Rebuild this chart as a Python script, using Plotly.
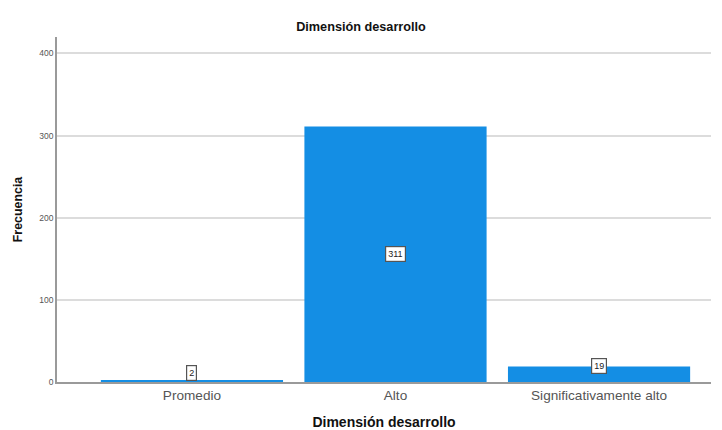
import plotly.graph_objects as go

categories = ["Promedio", "Alto", "Significativamente alto"]
values = [2, 311, 19]
y_ticks = [0, 100, 200, 300, 400]

bar_color = "#148EE4"
font_family = "Liberation Sans, Arial"

fig = go.Figure()
fig.add_trace(go.Bar(
    x=list(range(len(categories))), y=values,
    marker=dict(color=bar_color, line=dict(width=0)),
    width=0.895, hoverinfo="skip",
))

annotations = []
for i, v in enumerate(values):
    ly = v / 2 if v >= 60 else max(v, 10) + 1
    annotations.append(dict(
        x=i, y=ly, xref="x", yref="y", text=str(v), showarrow=False,
        font=dict(family=font_family, size=9, color="#222"),
        bgcolor="white", bordercolor="#555", borderwidth=1.2, borderpad=2,
    ))

fig.update_layout(
    width=722, height=430,
    margin=dict(l=57, r=11, t=37, b=48),
    paper_bgcolor="white", plot_bgcolor="white",
    showlegend=False,
    title=dict(text="<b>Dimensión desarrollo</b>", x=0.5, xanchor="center",
               y=1 - 27 / 430, yanchor="middle", automargin=False,
               font=dict(family=font_family, size=12.7, color="#111")),
    annotations=annotations,
    xaxis=dict(
        tickmode="array", tickvals=list(range(len(categories))), ticktext=categories,
        range=[-0.663, 2.55], showgrid=False, zeroline=False, automargin=False,
        showline=True, linecolor="#9a9a9a", linewidth=1.5, ticks="",
        tickfont=dict(family=font_family, size=13.6, color="#555"),
        title=dict(text="<b>Dimensión desarrollo</b>", standoff=18,
                   font=dict(family=font_family, size=14, color="#111")),
    ),
    yaxis=dict(
        range=[0, 420], tickvals=y_ticks, showgrid=True, gridcolor="#dcdcdc", gridwidth=1.5,
        zeroline=False, showline=True, linecolor="#9a9a9a", linewidth=1.5, ticks="",
        automargin=False,
        tickfont=dict(family=font_family, size=8.5, color="#555"),
        title=dict(text="<b>Frecuencia</b>", standoff=14,
                   font=dict(family=font_family, size=12.4, color="#111")),
    ),
)

fig.write_html("out.html", config={"displayModeBar": False},
               post_script="document.body.style.margin='0px';")
